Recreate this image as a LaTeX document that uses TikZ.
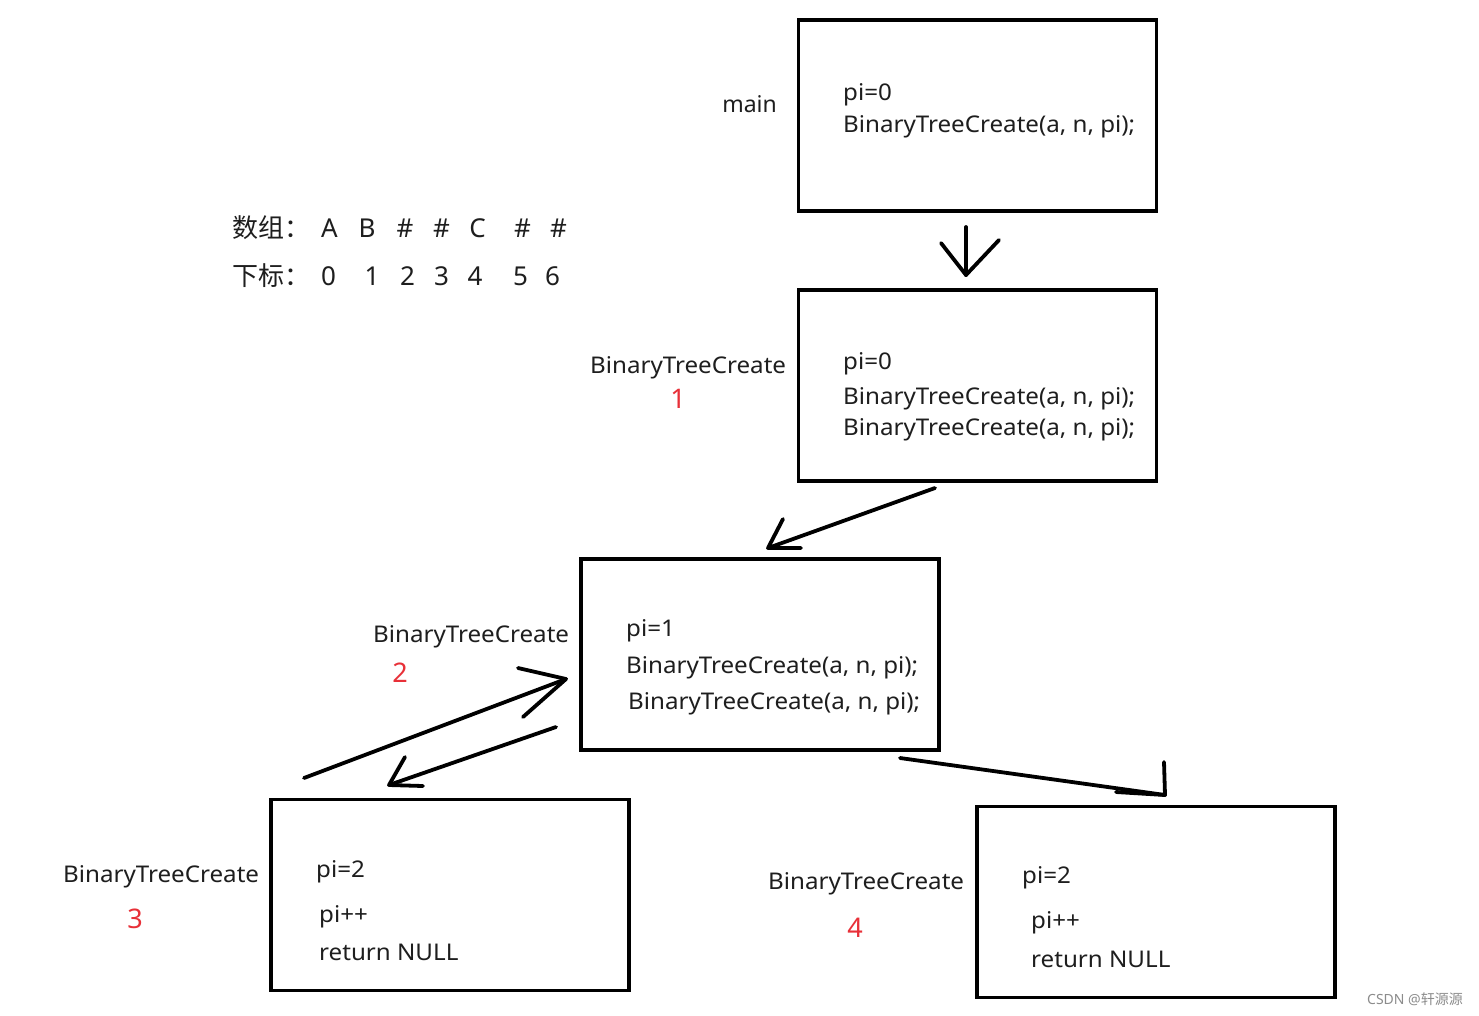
\documentclass[tikz,border=0pt]{standalone}
\usepackage{fontspec}
\setmainfont{Noto Sans}
\newfontfamily\cjk{Noto Sans CJK SC}
\newfontfamily\wide[FakeStretch=1.05]{Noto Sans}
\definecolor{txtc}{RGB}{30,30,30}
\definecolor{redc}{RGB}{232,48,56}
\begin{document}
\begin{tikzpicture}[x=1pt,y=-1pt,
  box/.style={draw, line width=3.6pt, inner sep=0pt, minimum width=358pt, minimum height=191pt},
  txt/.style={anchor=base west, inner sep=0pt, text=txtc, font=\fontsize{23}{27}\wide},
  lbl/.style={anchor=base west, inner sep=0pt, text=txtc, font=\fontsize{23}{27}\wide},
  num/.style={anchor=base, inner sep=0pt, text=redc, font=\fontsize{27}{30}\selectfont},
  arr/.style={draw, line width=3.8pt, line cap=round, line join=round},
  big/.style={anchor=base, inner sep=0pt, text=txtc, font=\fontsize{26}{30}\selectfont},
  bigw/.style={anchor=base west, inner sep=0pt, text=txtc, font=\fontsize{26}{30}\selectfont\cjk}]
\useasboundingbox (0,0) rectangle (1479,1015);
\fill[white] (0,0) rectangle (1479,1015);

% boxes
\node[box] (b0) at (977.5,115.5) {};
\node[box] (b1) at (977.5,385.5) {};
\node[box] (b2) at (760,654.5) {};
\node[box] (b3) at (450,895) {};
\node[box] (b4) at (1156,902) {};

% main
\node[anchor=base east, inner sep=0pt, text=txtc, font=\fontsize{23}{27}\selectfont] (lmain) at (777,112) {main};
\node[txt] (t01) at (843,100) {pi=0};
\node[txt] (t02) at (843,132) {BinaryTreeCreate(a, n, pi);};

% array
\node[bigw] (arrlab) at (232,237) {数组：};
\node[big] (c0) at (329.5,237) {A};
\node[big] (c1) at (367,237) {B};
\node[big] (c2) at (405,237) {\#};
\node[big] (c3) at (441.5,237) {\#};
\node[big] (c4) at (477.5,237) {C};
\node[big] (c5) at (522.5,237) {\#};
\node[big] (c6) at (558.5,237) {\#};
\node[bigw] (idxlab) at (232,285) {下标：};
\node[big] (i0) at (328.5,285) {0};
\node[big] (i1) at (372,285) {1};
\node[big] (i2) at (407.5,285) {2};
\node[big] (i3) at (441.5,285) {3};
\node[big] (i4) at (475,285) {4};
\node[big] (i5) at (520.5,285) {5};
\node[big] (i6) at (552.5,285) {6};

% box 1
\node[lbl] (l1) at (590,373) {BinaryTreeCreate};
\node[num] (n1) at (678,408) {1};
\node[txt] (t11) at (843,369) {pi=0};
\node[txt] (t12) at (843,404) {BinaryTreeCreate(a, n, pi);};
\node[txt] (t13) at (843,435) {BinaryTreeCreate(a, n, pi);};

% box 2
\node[lbl] (l2) at (373,642) {BinaryTreeCreate};
\node[num] (n2) at (400,682) {2};
\node[txt] (t21) at (626,636) {pi=1};
\node[txt] (t22) at (626,673) {BinaryTreeCreate(a, n, pi);};
\node[txt] (t23) at (628,709) {BinaryTreeCreate(a, n, pi);};

% box 3
\node[lbl] (l3) at (63,882) {BinaryTreeCreate};
\node[num] (n3) at (135,928) {3};
\node[txt] (t31) at (316,877) {pi=2};
\node[txt] (t32) at (319,922) {pi++};
\node[txt] (t33) at (319,960) {return NULL};

% box 4
\node[lbl] (l4) at (768,889) {BinaryTreeCreate};
\node[num] (n4) at (855,937) {4};
\node[txt] (t41) at (1022,883) {pi=2};
\node[txt] (t42) at (1031,928) {pi++};
\node[txt] (t43) at (1031,967) {return NULL};

% watermark
\node[anchor=base east, inner sep=0pt, text=black!45, font=\fontsize{14}{16}\selectfont] (wm) at (1463,1004) {CSDN @{\cjk 轩源源}};

% arrows
\coordinate (a1s) at (966,227);
\coordinate (a1e) at (966,275);
\coordinate (a1h1) at (941,243);
\coordinate (a1h2) at (999,240);
\draw[arr] (a1s) -- (a1e);
\draw[arr] (a1h1) -- (a1e) -- (a1h2);

\coordinate (a2s) at (935,488);
\coordinate (a2e) at (768,548);
\coordinate (a2h1) at (783,519);
\coordinate (a2h2) at (801,548);
\draw[arr] (a2s) -- (a2e);
\draw[arr] (a2h1) -- (a2e) -- (a2h2);

\coordinate (a3s) at (304,778);
\coordinate (a3e) at (566,679);
\coordinate (a3h1) at (518,668);
\coordinate (a3h2) at (523,717);
\draw[arr] (a3s) -- (a3e);
\draw[arr] (a3h1) -- (a3e) -- (a3h2);

\coordinate (a4s) at (556,727);
\coordinate (a4e) at (389,785);
\coordinate (a4h1) at (405,757);
\coordinate (a4h2) at (423,786);
\draw[arr] (a4s) -- (a4e);
\draw[arr] (a4h1) -- (a4e) -- (a4h2);

\coordinate (a5s) at (900,758);
\coordinate (a5e) at (1165,795);
\coordinate (a5h1) at (1164,762);
\coordinate (a5h2) at (1116,792);
\draw[arr] (a5s) -- (a5e);
\draw[arr] (a5h1) -- (a5e) -- (a5h2);
\end{tikzpicture}
\end{document}
